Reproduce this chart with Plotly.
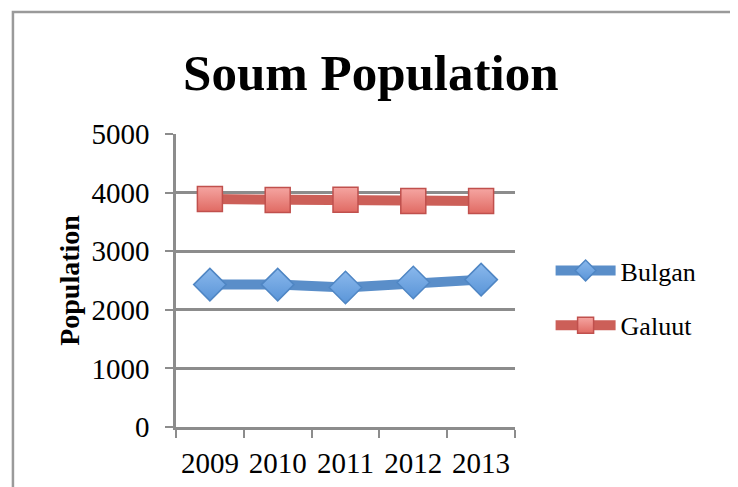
import plotly.graph_objects as go

years = ["2009", "2010", "2011", "2012", "2013"]
bulgan = [2430, 2430, 2380, 2465, 2515]
galuut = [3890, 3875, 3880, 3855, 3855]
y_ticks = [0, 1000, 2000, 3000, 4000, 5000]

SERIF = "Liberation Serif"
GRAY = "#8c8c8c"

fig = go.Figure()
fig.add_trace(go.Scatter(
    x=years, y=bulgan, name="Bulgan", mode="lines+markers",
    legendgroup="b",
    line=dict(color="#5a8ec9", width=10),
    marker=dict(symbol="diamond", size=25, color="#8ab8ec",
                gradient=dict(type="vertical", color="#5a95d8"),
                line=dict(color="#4f86c4", width=1.5)),
))
fig.add_trace(go.Scatter(
    x=years, y=galuut, name="Galuut", mode="lines+markers",
    legendgroup="g",
    line=dict(color="#cc5f58", width=10),
    marker=dict(symbol="square", size=25, color="#f5a5a1",
                gradient=dict(type="vertical", color="#e06a63"),
                line=dict(color="#c0504d", width=1.5)),
))

# outer chart frame
fig.add_shape(type="rect", xref="paper", yref="paper",
              x0=-0.481, x1=1.649, y0=-0.3, y1=1.416,
              line=dict(color="#9a9a9a", width=2.5), layer="below")

fig.update_layout(
    width=730, height=479,
    margin=dict(l=168, r=223, t=126, b=60, autoexpand=False),
    paper_bgcolor="white", plot_bgcolor="white",
    title=dict(text="Soum Population", x=0.497, xanchor="center",
               y=1 - 64 / 479, yanchor="middle", yref="container",
               font=dict(family=SERIF, size=51, color="black", weight="bold")),
    font=dict(family=SERIF, color="black"),
    legend=dict(x=1.105, y=0.44, xanchor="left", yanchor="middle",
                font=dict(family=SERIF, size=26, color="black"),
                tracegroupgap=18, itemwidth=60, bgcolor="rgba(0,0,0,0)"),
    showlegend=True,
)
fig.update_xaxes(
    type="category", range=[-0.5, 4.5], tickson="boundaries",
    ticks="outside", ticklen=8, tickcolor=GRAY, tickwidth=2,
    showline=True, linecolor=GRAY, linewidth=2.5, automargin=False,
    showgrid=False, tickfont=dict(family=SERIF, size=29, color="black"),
    tickangle=0, ticklabelstandoff=8,
)
fig.update_yaxes(
    range=[0, 5000], tickvals=y_ticks, ticktext=[str(v) for v in y_ticks],
    ticks="outside", ticklen=8, tickcolor=GRAY, tickwidth=2,
    showline=True, linecolor=GRAY, linewidth=2.5, automargin=False,
    showgrid=True, gridcolor=GRAY, gridwidth=2.5, zeroline=False,
    tickfont=dict(family=SERIF, size=29, color="black"),
    ticklabelstandoff=10,
    title=dict(text="Population", standoff=4,
               font=dict(family=SERIF, size=28, color="black", weight="bold")),
)

fig.write_html("out.html")
